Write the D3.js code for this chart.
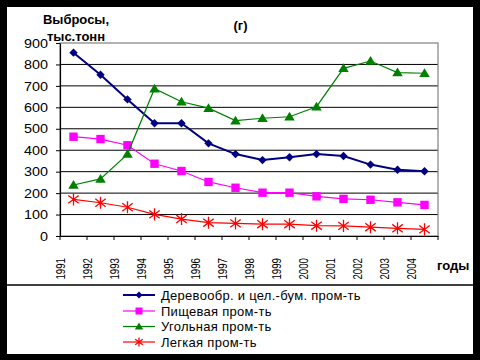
<!DOCTYPE html>
<html><head><meta charset="utf-8">
<script src="https://cdn.jsdelivr.net/npm/d3@7"></script>
<style>body{margin:0;background:#000}svg{display:block}</style>
</head><body>
<script>
const years = ["1991","1992","1993","1994","1995","1996","1997","1998","1999","2000","2001","2002","2003","2004"];
const wood  = [855,752,637,526,526,432,382,354,367,382,373,333,309,302];
const food  = [463,452,423,337,303,252,225,202,202,185,173,169,157,145];
const coal  = [238,266,382,687,626,596,538,549,556,603,782,816,762,759];
const light = [171,155,134,101,79,62,59,55,55,48,47,41,36,31];
const yTicks = [0,100,200,300,400,500,600,700,800,900];
const seriesNames = ["Деревообр. и цел.-бум. пром-ть","Пищевая пром-ть","Угольная пром-ть","Легкая пром-ть"];

const W=480,H=360;
const svg=d3.select("body").append("svg").attr("width",W).attr("height",H);
svg.append("rect").attr("width",W).attr("height",H).attr("fill","#000");
svg.append("rect").attr("x",7).attr("y",7).attr("width",466).attr("height",347).attr("fill","#fff");
svg.append("line").attr("x1",7).attr("x2",473).attr("y1",285).attr("y2",285).attr("stroke","#000").attr("stroke-width",1.5);

const x=d3.scaleBand().domain(years).range([60,438]).padding(0);
const y=d3.scaleLinear().domain([0,900]).range([236,43]);
const cx=d=>x(d)+x.bandwidth()/2;
const font="'Liberation Sans', Arial, sans-serif";

// gridlines
svg.append("g").selectAll("line").data(yTicks.filter(t=>t>0&&t<900)).join("line")
  .attr("x1",60).attr("x2",438).attr("y1",d=>y(d)).attr("y2",d=>y(d)).attr("stroke","#000").attr("stroke-width",1);
// plot border
svg.append("rect").attr("x",60).attr("y",y(900)).attr("width",378).attr("height",y(0)-y(900))
  .attr("fill","none").attr("stroke","#808080").attr("stroke-width",1.2);

// y axis
const ya=svg.append("g").attr("transform","translate(60,0)")
  .call(d3.axisLeft(y).tickValues(yTicks).tickSize(4).tickSizeOuter(0).tickPadding(8));
ya.select(".domain").attr("stroke","#000").attr("stroke-width",1.2);
ya.selectAll("line").attr("stroke","#000");
ya.selectAll("text").attr("font-family",font).attr("font-size",13).attr("fill","#000")
  .attr("textLength",function(){return this.textContent.length*8;}).attr("lengthAdjust","spacingAndGlyphs");

// x axis
const xa=svg.append("g").attr("transform","translate(0,236)")
  .call(d3.axisBottom(x).tickSize(0).tickFormat(""));
xa.select(".domain").attr("stroke","#000").attr("stroke-width",1.2);
const tickPos=years.map(d=>x(d)).concat([438]);
svg.append("g").selectAll("line").data(tickPos).join("line")
  .attr("x1",d=>d).attr("x2",d=>d).attr("y1",236).attr("y2",240).attr("stroke","#000");
svg.append("g").selectAll("text").data(years).join("text")
  .attr("transform",d=>`translate(${x(d)+1},279.5) rotate(-90)`)
  .attr("dy","0.36em").attr("text-anchor","start")
  .attr("font-family",font).attr("font-size",12).attr("fill","#000")
  .attr("textLength",21.5).attr("lengthAdjust","spacingAndGlyphs")
  .text(d=>d);

// titles
svg.append("text").attr("x",76).attr("y",24).attr("text-anchor","middle").attr("font-family",font)
  .attr("font-weight","bold").attr("font-size",13).text("Выбросы,");
svg.append("text").attr("x",76).attr("y",41).attr("text-anchor","middle").attr("font-family",font)
  .attr("font-weight","bold").attr("font-size",13).text("тыс.тонн");
svg.append("text").attr("x",240.5).attr("y",29.5).attr("text-anchor","middle").attr("font-family",font)
  .attr("font-weight","bold").attr("font-size",13).text("(г)");
svg.append("text").attr("x",437).attr("y",270).attr("font-family",font)
  .attr("font-weight","bold").attr("font-size",13).text("годы");

// markers
function marker(g,type,color,s){
  if(type==="diamond"){
    g.append("path").attr("d",`M0,${-s}L${s},0L0,${s}L${-s},0Z`).attr("fill",color);
  }else if(type==="square"){
    g.append("rect").attr("x",-s).attr("y",-s).attr("width",2*s).attr("height",2*s).attr("fill",color);
  }else if(type==="triangle"){
    g.append("path").attr("d",`M0,${-s}L${s*1.05},${s*0.75}L${-s*1.05},${s*0.75}Z`).attr("fill",color);
  }else if(type==="star"){
    const a=s*0.95;
    g.append("path").attr("d",`M${-a},${-a*0.75}L${a},${a*0.75}M${-a},${a*0.75}L${a},${-a*0.75}M0,${-s*1.1}L0,${s*1.1}`)
      .attr("stroke",color).attr("stroke-width",1.3).attr("fill","none");
  }
}
const series=[
  {name:seriesNames[0],vals:wood,color:"#000080",w:2,type:"diamond",s:4.2,ls:3.5},
  {name:seriesNames[1],vals:food,color:"#FF00FF",w:1.2,type:"square",s:4.2,ls:3.5},
  {name:seriesNames[2],vals:coal,color:"#008000",w:1.2,type:"triangle",s:5,ls:4},
  {name:seriesNames[3],vals:light,color:"#FF0000",w:1.2,type:"star",s:5.5,ls:4}
];
const line=d3.line().x((d,i)=>cx(years[i])).y(d=>y(d));
series.forEach(s=>{
  svg.append("path").datum(s.vals).attr("d",line).attr("fill","none").attr("stroke",s.color).attr("stroke-width",s.w);
  s.vals.forEach((v,i)=>{
    const g=svg.append("g").attr("transform",`translate(${cx(years[i])},${y(v)})`);
    marker(g,s.type,s.color,s.s);
  });
});

// legend
const rowY=[295,311,326.5,342];
series.forEach((s,i)=>{
  svg.append("line").attr("x1",123).attr("x2",155).attr("y1",rowY[i]).attr("y2",rowY[i])
    .attr("stroke",s.color).attr("stroke-width",s.w);
  const g=svg.append("g").attr("transform",`translate(139,${rowY[i]})`);
  marker(g,s.type,s.color,s.ls);
  svg.append("text").attr("x",161).attr("y",rowY[i]).attr("dy","0.35em").attr("font-family",font)
    .attr("font-size",13).attr("letter-spacing",0.28).attr("fill","#000").text(s.name);
});
</script>
</body></html>
